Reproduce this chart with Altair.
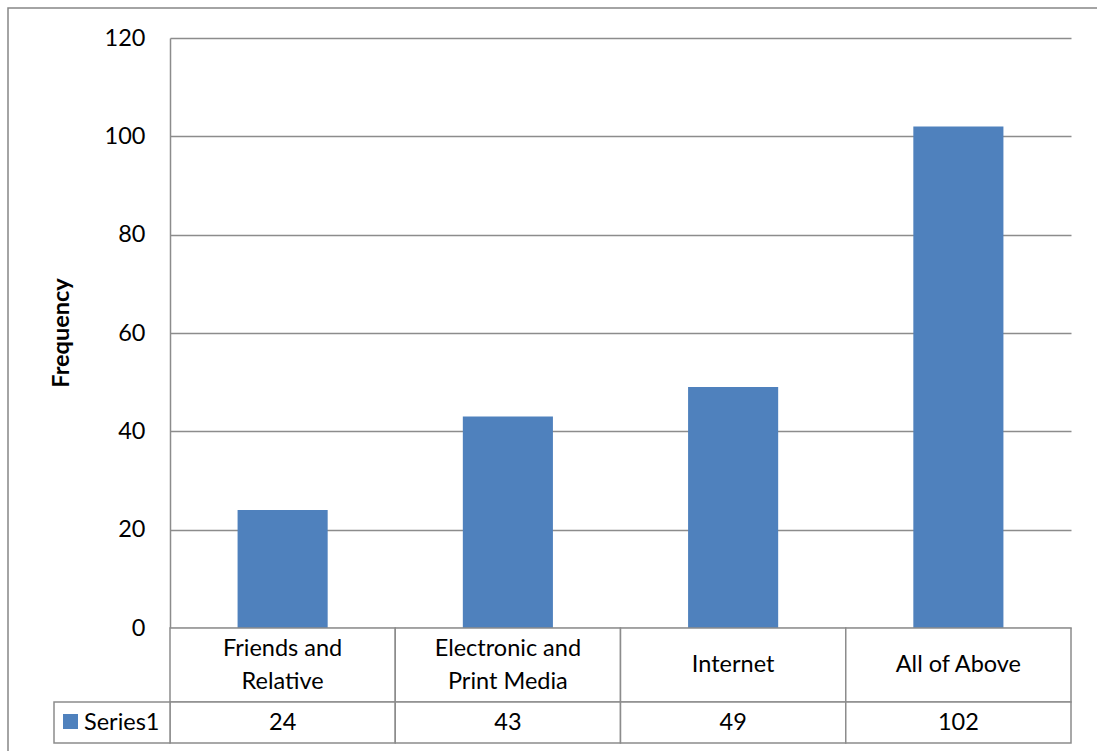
import altair as alt
import pandas as pd

categories = ["Friends and Relative", "Electronic and Print Media", "Internet", "All of Above"]
label_lines = [["Friends and", "Relative"], ["Electronic and", "Print Media"], ["Internet"], ["All of Above"]]
values = [24, 43, 49, 102]
series_name = "Series1"
y_ticks = [0, 20, 40, 60, 80, 100, 120]

FONT = "Lato"
FS = 23.5
BLUE = "#4F81BD"
GRID = "#8c8c8c"

df = pd.DataFrame({"category": categories, "lines": label_lines, "value": values})
one = pd.DataFrame({"name": [series_name]})

W, H = 901, 590
ROW1_TOP, ROW1_BOT, ROW2_BOT = 590, 664, 705
LH = 33

xenc = alt.X("category:N", sort=categories, axis=None,
             scale=alt.Scale(paddingInner=0, paddingOuter=0))

base = alt.Chart(df)

bars = base.mark_bar(color=BLUE, width=alt.RelativeBandSize(0.4)).encode(
    x=xenc,
    y=alt.Y("value:Q", scale=alt.Scale(domain=[0, 120], nice=False),
            axis=alt.Axis(values=y_ticks, title=None, grid=True, gridColor=GRID, gridWidth=1.5,
                          domainColor=GRID, domainWidth=1.5, ticks=False, labelPadding=25,
                          labelFont=FONT, labelFontSize=FS, labelColor="black")),
)

cells1 = base.mark_rect(fill="white", stroke=GRID, strokeWidth=1.5).encode(
    x=xenc, y=alt.value(ROW1_TOP), y2=alt.value(ROW1_BOT))
cells2 = base.mark_rect(fill="white", stroke=GRID, strokeWidth=1.5).encode(
    x=xenc, y=alt.value(ROW1_BOT), y2=alt.value(ROW2_BOT))

mid1 = (ROW1_TOP + ROW1_BOT) / 2
cat_text_2 = base.mark_text(font=FONT, fontSize=FS, color="black", baseline="middle",
                            lineHeight=LH).encode(
    x=xenc, y=alt.value(mid1 - LH / 2), text="lines"
).transform_filter("length(datum.lines) > 1")
cat_text_1 = base.mark_text(font=FONT, fontSize=FS, color="black", baseline="middle",
                            lineHeight=LH).encode(
    x=xenc, y=alt.value(mid1), text="lines"
).transform_filter("length(datum.lines) == 1")
val_text = base.mark_text(font=FONT, fontSize=FS, color="black", baseline="middle").encode(
    x=xenc, y=alt.value((ROW1_BOT + ROW2_BOT) / 2), text="value:Q")

oc = alt.Chart(one)
series_cell = oc.mark_rect(fill="white", stroke=GRID, strokeWidth=1.5).encode(
    x=alt.value(-116), x2=alt.value(0), y=alt.value(ROW1_BOT), y2=alt.value(ROW2_BOT))
key = oc.mark_rect(fill=BLUE).encode(
    x=alt.value(-107), x2=alt.value(-92), y=alt.value(676), y2=alt.value(691))
series_text = oc.mark_text(font=FONT, fontSize=FS, color="black", align="left",
                           baseline="middle").encode(
    x=alt.value(-86), y=alt.value((ROW1_BOT + ROW2_BOT) / 2), text="name:N")
ytitle = oc.mark_text(font=FONT, fontSize=FS, fontWeight="bold", color="black", angle=270,
                      align="center", baseline="middle").encode(
    x=alt.value(-108), y=alt.value(295), text=alt.value("Frequency"))
border = oc.mark_rect(fill="transparent", stroke="#868686", strokeWidth=1.5).encode(
    x=alt.value(-162), x2=alt.value(940), y=alt.value(-30), y2=alt.value(740))

chart = alt.layer(border, bars, cells1, cells2, series_cell, key, cat_text_2, cat_text_1,
                  val_text, series_text, ytitle).properties(
    width=W, height=H,
    background="white",
    autosize=alt.AutoSizeParams(type="none"),
    padding={"left": 170, "top": 38, "right": 26, "bottom": 123},
).configure_view(stroke=None)

chart.save("out.html", embed_options={"renderer": "svg", "actions": False})
